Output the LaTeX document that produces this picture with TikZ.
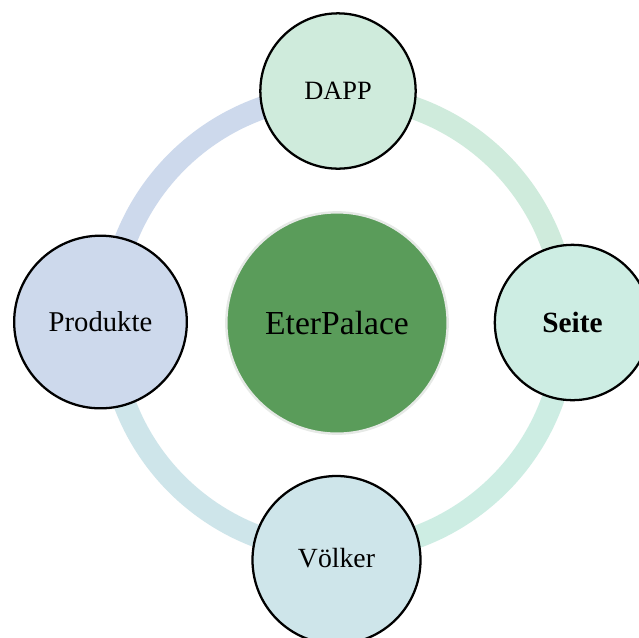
\documentclass[tikz,border=0pt]{standalone}
\usepackage{fontspec}
\setmainfont{Liberation Serif}
\definecolor{ringblue}{HTML}{CDD9EC}
\definecolor{ringgreen}{HTML}{CFEBDC}
\definecolor{ringmint}{HTML}{CDEDE3}
\definecolor{ringteal}{HTML}{CEE5EA}
\definecolor{hubgreen}{HTML}{5A9C5A}
\definecolor{hubedge}{HTML}{E6E9E6}
\tikzset{
  sat/.style={circle,draw=black,line width=1.7pt,inner sep=0pt,text=black},
  hub/.style={circle,draw=hubedge,line width=1.8pt,fill=hubgreen,inner sep=0pt,text=black},
  arcseg/.style={line width=17pt,line cap=butt}
}
\newcommand{\fsz}[1]{\fontsize{#1}{#1}\selectfont}
\begin{document}
\begin{tikzpicture}[x=0.75pt,y=-0.75pt]
\useasboundingbox (0,0) rectangle (639,637);
\fill[white] (0,0) rectangle (639,637);
\coordinate (ringc) at (338,323);
\def\rr{171pt}
\draw[arcseg,ringgreen] (ringc) ++(90:\rr) arc[start angle=90,end angle=0,radius=\rr];
\draw[arcseg,ringmint] (ringc) ++(0:\rr) arc[start angle=0,end angle=-90,radius=\rr];
\draw[arcseg,ringteal] (ringc) ++(-90:\rr) arc[start angle=-90,end angle=-180,radius=\rr];
\draw[arcseg,ringblue] (ringc) ++(180:\rr) arc[start angle=180,end angle=90,radius=\rr];
\node[hub,minimum size=166pt,font=\fsz{25.2}] (center) at (337,323) {\raisebox{0.5pt}{EterPalace}};
\node[sat,fill=ringgreen,minimum size=116.5pt,font=\fsz{19.8}] (dapp) at (338,91) {DAPP};
\node[sat,fill=ringmint,minimum size=116.5pt,font=\fsz{22}] (seite) at (572.5,322.5) {\raisebox{0.5pt}{\textbf{Seite}}};
\node[sat,fill=ringteal,minimum size=126pt,font=\fsz{20.8}] (volker) at (336.5,560) {\raisebox{3.2pt}{Völker}};
\node[sat,fill=ringblue,minimum size=129.5pt,font=\fsz{21.5}] (produkte) at (100.5,322) {Produkte};
\end{tikzpicture}
\end{document}
